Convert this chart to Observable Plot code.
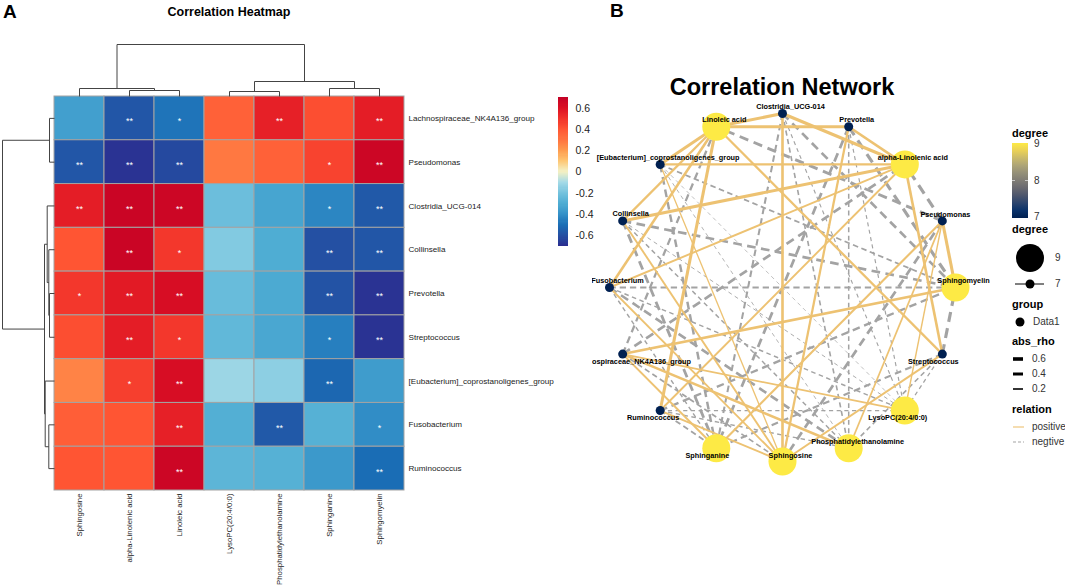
<!DOCTYPE html>
<html><head><meta charset="utf-8">
<script src="https://cdn.jsdelivr.net/npm/d3@7"></script>
<script src="https://cdn.jsdelivr.net/npm/@observablehq/plot@0.6"></script>
<style>
body{margin:0;background:#fff;}
#root{position:relative;width:1065px;height:587px;overflow:hidden;font-family:"Liberation Sans",Arial,Helvetica,sans-serif;background:#fff;}
#root svg{position:absolute;}
</style></head><body><div id="root"></div>
<script>
// ---------- DATA ----------
const metabolites = ["Sphingosine","alpha-Linolenic acid","Linoleic acid","LysoPC(20:4/0:0)","Phosphatidylethanolamine","Sphinganine","Sphingomyelin"];
const bacteria = ["Lachnospiraceae_NK4A136_group","Pseudomonas","Clostridia_UCG-014","Collinsella","Prevotella","Streptococcus","[Eubacterium]_coprostanoligenes_group","Fusobacterium","Ruminococcus"];
// correlation (rows = bacteria, columns = metabolites)
const rho = [
  [-0.35,-0.58,-0.48, 0.36, 0.55, 0.42, 0.56],
  [-0.58,-0.68,-0.62, 0.29, 0.36, 0.45, 0.66],
  [ 0.56, 0.67, 0.66,-0.22,-0.33,-0.43,-0.57],
  [ 0.40, 0.67, 0.48,-0.17,-0.30,-0.60,-0.58],
  [ 0.48, 0.57, 0.62,-0.23,-0.31,-0.59,-0.68],
  [ 0.42, 0.56, 0.48,-0.25,-0.32,-0.45,-0.68],
  [ 0.26, 0.46, 0.62,-0.12,-0.15,-0.52,-0.36],
  [ 0.37, 0.40, 0.55,-0.29,-0.57,-0.28,-0.41],
  [ 0.40, 0.40, 0.66,-0.26,-0.28,-0.37,-0.50]
];
const stars = [
  ["","**","*","","**","","**"],
  ["**","**","**","","","*","**"],
  ["**","**","**","","","*","**"],
  ["","**","*","","","**","**"],
  ["*","**","**","","","**","**"],
  ["","**","*","","","*","**"],
  ["","*","**","","","**",""],
  ["","","**","","**","","*"],
  ["","","**","","","","**"]
];
const legendTicks = [-0.6,-0.4,-0.2,0,0.2,0.4,0.6];
// dendrograms: [height, left, right], leaves = index
const colTree = [52, [8, 0, [6, 1, 2]], [15, [5, 3, 4], [8, 5, 6]]];
const rowTree = [52, [5, 0, 1], [10, [7.3, 2, [5.7, 3, [5, 4, 5]]], [9.3, 6, [5.7, 7, 8]]]];
// network circle order (clockwise from top)
const circleOrder = ["Clostridia_UCG-014","Prevotella","alpha-Linolenic acid","Pseudomonas","Sphingomyelin","Streptococcus","LysoPC(20:4/0:0)","Phosphatidylethanolamine","Sphingosine","Sphinganine","Ruminococcus","Lachnospiraceae_NK4A136_group","Fusobacterium","Collinsella","[Eubacterium]_coprostanoligenes_group","Linoleic acid"];
const widthTicks = [0.6,0.4,0.2];

// ---------- STYLE ----------
const FONT = '"Liberation Sans",Arial,Helvetica,sans-serif';
const heatStops = ["#2b2c8f","#2450a3","#1a6db5","#3491c8","#4fadd3","#73c2de","#a6dbe7","#f3f0c4","#fec774","#fe9a4e","#ff7440","#ff5533","#f0302a","#dc1023","#c20026"];
const heatInterp = d3.piecewise(d3.interpolateRgb, heatStops);
const POS = "#EDC272", NEG = "#A3A3A3";
const root = document.getElementById("root");
function place(svg, left, top){ svg.style.left = left+"px"; svg.style.top = top+"px"; root.appendChild(svg); }

// ---------- PANEL A: HEATMAP ----------
const gx0 = 54, gx1 = 404, gy0 = 96, gy1 = 490;
const colW = (gx1-gx0)/metabolites.length, rowH = (gy1-gy0)/bacteria.length;
const cells = [];
bacteria.forEach((b,i)=>metabolites.forEach((m,j)=>cells.push({i,j,v:rho[i][j],s:stars[i][j]})));

function dendro(tree, leafPos){
  const segs = [];
  (function walk(n){
    if (typeof n === "number") return {p: leafPos(n), h: 0};
    const [h,a,b] = n, A = walk(a), B = walk(b);
    segs.push({p1:A.p,h1:A.h,p2:A.p,h2:h},{p1:B.p,h1:B.h,p2:B.p,h2:h},{p1:A.p,h1:h,p2:B.p,h2:h});
    return {p:(A.p+B.p)/2, h};
  })(tree);
  return segs;
}
const colSegs = dendro(colTree, j=>j+0.5);
const rowSegs = dendro(rowTree, i=>i+0.5);

const heat = Plot.plot({
  width: 556, height: 587,
  x: {domain:[0,metabolites.length], range:[gx0,gx1], axis:null},
  y: {domain:[0,bacteria.length], range:[gy0,gy1], axis:null},
  color: {type:"linear", domain:[-0.7,0.7], interpolate: heatInterp},
  style: {background:"transparent", fontFamily: FONT, overflow:"visible"},
  marks: [
    Plot.rect(cells, {x1:d=>d.j, x2:d=>d.j+1, y1:d=>d.i, y2:d=>d.i+1, fill:d=>d.v, stroke:"#a3a3a3", strokeWidth:1}),
    Plot.text(cells.filter(d=>d.s), {x:d=>d.j+0.5, y:d=>d.i+0.5, text:d=>d.s, fill:"white", fontSize:9, dy:3}),
    Plot.text(bacteria, {x:metabolites.length, y:(d,i)=>i+0.5, text:d=>d, textAnchor:"start", dx:4, fontSize:8.1, fill:"#222"}),
    Plot.text(metabolites, {x:(d,i)=>i+0.5, y:bacteria.length, text:d=>d, rotate:-90, textAnchor:"end", dy:3, fontSize:7.8, fill:"#222"}),
    Plot.link(colSegs, {x1:d=>d.p1, x2:d=>d.p2, y1:d=>-d.h1/rowH, y2:d=>-d.h2/rowH, stroke:"#444", strokeWidth:1}),
    Plot.link(rowSegs, {y1:d=>d.p1, y2:d=>d.p2, x1:d=>-d.h1/colW, x2:d=>-d.h2/colW, stroke:"#444", strokeWidth:1})
  ]
});
place(heat, 0, 0);

// heatmap colour legend
const step = 0.01;
const grad = d3.range(-0.7, 0.7 - step/2, step);
const heatLegend = Plot.plot({
  width: 50, height: 170,
  x: {domain:[0,1], range:[8,18], axis:null},
  y: {domain:[-0.7,0.7], range:[156,7], axis:null},
  color: {type:"linear", domain:[-0.7,0.7], interpolate: heatInterp},
  style: {background:"transparent", fontFamily: FONT, overflow:"visible"},
  marks: [
    Plot.rect(grad, {x1:0, x2:1, y1:d=>d, y2:d=>d+step*1.3, fill:d=>d+step/2, shapeRendering:"crispEdges"}),
    Plot.text(legendTicks, {x:1, y:d=>d, text:d=>String(d), textAnchor:"start", dx:7, fontSize:10.5, fill:"#222"})
  ]
});
place(heatLegend, 550, 90);

// ---------- PANEL B: NETWORK ----------
const nodes = circleOrder.map((name,k)=>{
  const a = Math.PI/2 - k*2*Math.PI/circleOrder.length;
  return {name, x: Math.cos(a), y: Math.sin(a)};
});
const byName = new Map(nodes.map(n=>[n.name,n]));
const edges = [];
bacteria.forEach((b,i)=>metabolites.forEach((m,j)=>{
  const v = rho[i][j];
  edges.push({s: byName.get(b), t: byName.get(m), v, a: Math.abs(v)});
}));
nodes.forEach(n=>n.degree = edges.filter(e=>e.s===n||e.t===n).length);
const ew = a => 0.6 + 4.4*(a-0.1);

const labelOff = {
  "Pseudomonas":[3,-6], "Lachnospiraceae_NK4A136_group":[8,8], "Streptococcus":[-9,8],
  "Ruminococcus":[-7,7], "LysoPC(20:4/0:0)":[-7,7], "Sphinganine":[-9,7],
  "Sphingosine":[8,-6], "Phosphatidylethanolamine":[9,-7]
};

const negMarks = edges.filter(e=>e.v<0).map(e=>{
  const w = ew(e.a);
  return Plot.link([e], {x1:d=>d.s.x, y1:d=>d.s.y, x2:d=>d.t.x, y2:d=>d.t.y, stroke:NEG, strokeWidth:w,
    strokeDasharray:`${Math.max(4,3.2*w)},${Math.max(3.5,2*w)}`});
});
const posMark = Plot.link(edges.filter(e=>e.v>0), {x1:d=>d.s.x, y1:d=>d.s.y, x2:d=>d.t.x, y2:d=>d.t.y, stroke:POS, strokeWidth:d=>ew(d.a)});
const labelMarks = nodes.map(n=>{
  const o = labelOff[n.name] || [8,-7];
  return Plot.text([n], {x:"x", y:"y", text:"name", dx:o[0], dy:o[1], fontSize:7.3, fontWeight:"bold", fill:"#000"});
});

const net = Plot.plot({
  width: 420, height: 587,
  x: {domain:[-1,1], range:[17,363], axis:null},
  y: {domain:[-1,1], range:[461,113], axis:null},
  color: {type:"linear", scheme:"cividis", domain:[7,9]},
  r: {type:"linear", domain:[7,9], range:[4.5,14]},
  style: {background:"transparent", fontFamily: FONT, overflow:"hidden"},
  marks: [
    ...negMarks,
    posMark,
    Plot.dot(nodes, {x:"x", y:"y", r:"degree", fill:"degree", stroke:null}),
    ...labelMarks
  ]
});
place(net, 592, 0);

// ---------- TITLES & NETWORK LEGEND ----------
const ov = d3.create("svg").attr("width",1065).attr("height",587).style("left","0px").style("top","0px")
  .style("pointer-events","none").attr("font-family", FONT);
const T = (x,y,s,size,weight,anchor,fill,base) => ov.append("text").attr("x",x).attr("y",y).text(s)
  .attr("font-size",size).attr("font-weight",weight||"normal").attr("text-anchor",anchor||"start")
  .attr("fill",fill||"#000").attr("dominant-baseline",base||"auto");
T(3,18,"A",19,"bold");
T(229,16,"Correlation Heatmap",12.5,"bold","middle");
T(610,17,"B",19,"bold");
T(782,95,"Correlation Network",23.5,"bold","middle");

// degree colour bar
const defs = ov.append("defs");
const lg = defs.append("linearGradient").attr("id","cvd").attr("x1",0).attr("y1",1).attr("x2",0).attr("y2",0);
d3.range(0,1.001,0.1).forEach(t=>lg.append("stop").attr("offset",t).attr("stop-color",d3.interpolateCividis(t)));
T(1012,137,"degree",11,"bold");
ov.append("rect").attr("x",1012).attr("y",143).attr("width",16).attr("height",75).attr("fill","url(#cvd)");
ov.append("line").attr("x1",1012).attr("x2",1015).attr("y1",180.5).attr("y2",180.5).attr("stroke","#ddd").attr("stroke-width",0.8);
ov.append("line").attr("x1",1025).attr("x2",1028).attr("y1",180.5).attr("y2",180.5).attr("stroke","#ddd").attr("stroke-width",0.8);
[[9,144],[8,181],[7,217]].forEach(([v,y])=>T(1034,y,String(v),10,"normal","start","#333","middle"));
// degree size
T(1012,233,"degree",11,"bold");
ov.append("line").attr("x1",1015).attr("x2",1044).attr("y1",284).attr("y2",284).attr("stroke","#000").attr("stroke-width",1);
ov.append("circle").attr("cx",1030).attr("cy",258).attr("r",14).attr("fill","#000");
ov.append("circle").attr("cx",1030).attr("cy",284).attr("r",4.5).attr("fill","#000");
T(1055,258,"9",10,"normal","start","#333","middle");
T(1055,284,"7",10,"normal","start","#333","middle");
// group
T(1012,308,"group",11,"bold");
ov.append("circle").attr("cx",1020).attr("cy",322).attr("r",4.5).attr("fill","#000");
T(1033,322,"Data1",10,"normal","start","#333","middle");
// abs_rho
T(1012,345,"abs_rho",11,"bold");
widthTicks.forEach((v,k)=>{
  const y = 359 + k*15;
  ov.append("line").attr("x1",1013).attr("x2",1023).attr("y1",y).attr("y2",y).attr("stroke","#000").attr("stroke-width",[3.6,3,1.6][k]);
  T(1032,y,String(v),10,"normal","start","#333","middle");
});
// relation
T(1012,413,"relation",11,"bold");
ov.append("line").attr("x1",1013).attr("x2",1024).attr("y1",427).attr("y2",427).attr("stroke",POS).attr("stroke-width",1.1);
ov.append("line").attr("x1",1013).attr("x2",1024).attr("y1",442).attr("y2",442).attr("stroke",NEG).attr("stroke-width",1.1).attr("stroke-dasharray","3,2");
T(1032,427,"positive",10,"normal","start","#333","middle");
T(1032,442,"negtive",10,"normal","start","#333","middle");
root.appendChild(ov.node());
</script></body></html>
